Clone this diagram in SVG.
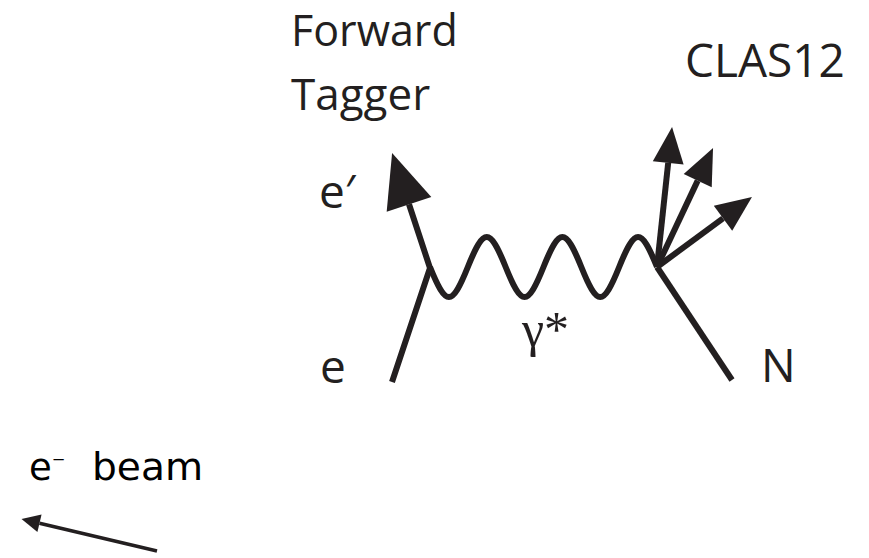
<svg xmlns="http://www.w3.org/2000/svg" width="869" height="558" viewBox="0 0 869 558">
<style>
.lbl{font-family:"Open Sans","Liberation Sans",sans-serif;fill:#231f20}
.ln{fill:none;stroke:#231f20;stroke-width:6}
</style>
<defs>
<marker id="headL" markerUnits="userSpaceOnUse" orient="auto" refX="0" refY="0" markerWidth="60" markerHeight="60" viewBox="0 -30 60 60" overflow="visible"><path d="M0,-23.5 L54,0 L0,23.5 Z" fill="#231f20"/></marker>
<marker id="headS" markerUnits="userSpaceOnUse" orient="auto" refX="0" refY="0" markerWidth="40" markerHeight="40" viewBox="0 -20 40 40" overflow="visible"><path d="M0,-15.5 L36,0 L0,15.5 Z" fill="#231f20"/></marker>
<marker id="headB" markerUnits="userSpaceOnUse" orient="auto" refX="0" refY="0" markerWidth="20" markerHeight="20" viewBox="0 -10 20 20" overflow="visible"><path d="M0,-9 L18.5,0 L0,9 Z" fill="#231f20"/></marker>
</defs>
<g id="connectors">
<path id="e-in-out" class="ln" d="M392,382 L430,268 L409,204.3" marker-end="url(#headL)"/>
<path id="photon" class="ln" d="M430,267 C446.06,307 451.77,307 467.83,267 C483.89,227 489.6,227 505.67,267 C521.73,307 527.44,307 543.5,267 C559.56,227 565.27,227 581.33,267 C597.4,307 603.1,307 619.17,267 C635.23,227 640.94,227 657,267"/>
<path id="nucleon" class="ln" d="M657,267 L732,380"/>
<path id="out1" class="ln" d="M657,267 L668.2,162.8" marker-end="url(#headS)"/>
<path id="out2" class="ln" d="M657,267 L697.7,180.6" marker-end="url(#headS)"/>
<path id="out3" class="ln" d="M657,267 L723,218.3" marker-end="url(#headS)"/>
<path id="beam-arrow" fill="none" stroke="#231f20" stroke-width="3.5" d="M157,551 L39.5,523.2" marker-end="url(#headB)"/>
</g>
<g id="forward-tagger"><text class="lbl" font-size="43" x="291" y="46">Forward</text><text class="lbl" font-size="44" x="291" y="110">Tagger</text></g>
<g id="clas12"><text class="lbl" font-size="46" x="685" y="77">CLAS12</text></g>
<g id="eprime"><text class="lbl" font-size="46" x="319" y="208">e′</text></g>
<g id="e"><text class="lbl" font-size="46" x="320" y="383">e</text></g>
<g id="n"><text class="lbl" font-size="46" x="761" y="382">N</text></g>
<g id="gamma"><text font-family="'Liberation Serif','DejaVu Serif',serif" font-size="50" fill="#231f20" x="522" y="346">γ*</text></g>
<g id="beam"><text font-family="'DejaVu Sans',sans-serif" font-size="37" fill="#000" x="29" y="480">e<tspan font-size="26" dy="-7">⁻</tspan><tspan x="92" y="480" textLength="111" lengthAdjust="spacingAndGlyphs">beam</tspan></text></g>
</svg>
